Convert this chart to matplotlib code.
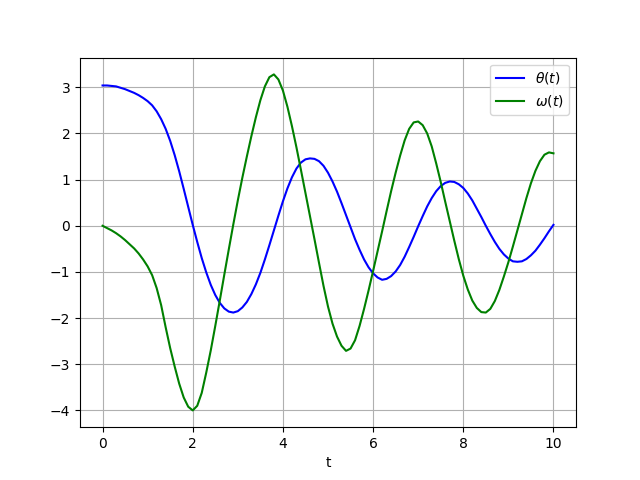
import numpy as np
import matplotlib
matplotlib.use("Agg")
import matplotlib.pyplot as plt

# sample times (0 to 10, step 0.1)
t = np.linspace(0, 10, 101)

# angle theta(t)
theta = [
    3.04, 3.04, 3.03, 3.02, 2.99, 2.96, 2.92, 2.88, 2.83, 2.77,
    2.70, 2.61, 2.48, 2.31, 2.10, 1.84, 1.53, 1.18, 0.80, 0.41,
    0.02, -0.35, -0.70, -1.01, -1.28, -1.50, -1.67, -1.79, -1.86, -1.88,
    -1.85, -1.77, -1.65, -1.48, -1.27, -1.02, -0.73, -0.42, -0.10, 0.22,
    0.53, 0.81, 1.05, 1.24, 1.37, 1.44, 1.46, 1.45, 1.40, 1.30,
    1.15, 0.96, 0.74, 0.49, 0.23, -0.03, -0.29, -0.52, -0.73, -0.90,
    -1.03, -1.12, -1.17, -1.15, -1.09, -0.99, -0.85, -0.67, -0.46, -0.24,
    -0.01, 0.21, 0.42, 0.60, 0.75, 0.86, 0.93, 0.96, 0.95, 0.90,
    0.82, 0.70, 0.55, 0.37, 0.19, 0.00, -0.18, -0.35, -0.50, -0.62,
    -0.71, -0.77, -0.78, -0.77, -0.72, -0.64, -0.54, -0.41, -0.27, -0.12,
    0.02,
]

# angular velocity omega(t)
omega = [
    0.00, -0.05, -0.10, -0.16, -0.23, -0.31, -0.40, -0.49, -0.60, -0.73,
    -0.88, -1.07, -1.35, -1.72, -2.20, -2.65, -3.05, -3.42, -3.72, -3.92,
    -4.00, -3.90, -3.62, -3.18, -2.70, -2.17, -1.62, -1.06, -0.51, 0.03,
    0.55, 1.04, 1.50, 1.94, 2.35, 2.72, 3.02, 3.22, 3.28, 3.17,
    2.93, 2.58, 2.16, 1.70, 1.21, 0.71, 0.21, -0.29, -0.80, -1.30,
    -1.75, -2.12, -2.40, -2.60, -2.71, -2.66, -2.48, -2.17, -1.80, -1.40,
    -0.98, -0.55, -0.12, 0.32, 0.75, 1.15, 1.52, 1.85, 2.10, 2.24,
    2.26, 2.18, 2.00, 1.72, 1.35, 0.95, 0.52, 0.10, -0.32, -0.72,
    -1.08, -1.38, -1.62, -1.78, -1.87, -1.88, -1.80, -1.63, -1.39, -1.10,
    -0.79, -0.45, -0.10, 0.25, 0.60, 0.92, 1.19, 1.40, 1.54, 1.59,
    1.57,
]

plt.figure(figsize=(6.4, 4.8), dpi=100)
plt.plot(t, theta, "b", label=r"$\theta(t)$")
plt.plot(t, omega, "g", label=r"$\omega(t)$")
plt.legend(loc="best")
plt.xlabel("t")
plt.grid()
plt.savefig("out.png")
plt.close()
